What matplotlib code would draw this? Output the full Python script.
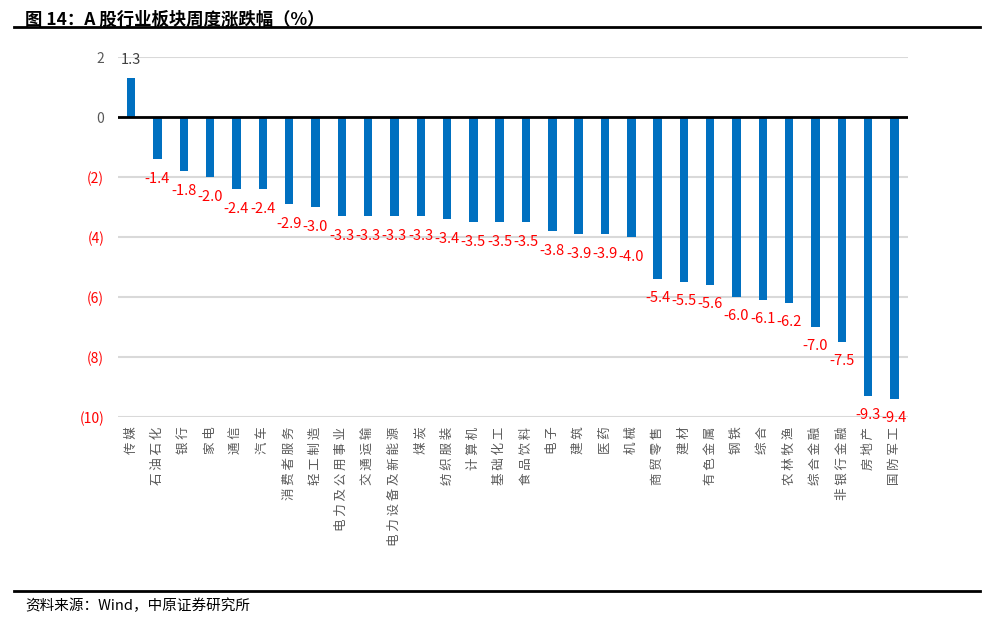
import matplotlib.pyplot as plt
import matplotlib.ticker as mticker

plt.rcParams['font.family'] = ['Noto Sans CJK SC', 'DejaVu Sans']

sectors = ["传媒", "石油石化", "银行", "家电", "通信", "汽车", "消费者服务", "轻工制造",
           "电力及公用事业", "交通运输", "电力设备及新能源", "煤炭", "纺织服装", "计算机",
           "基础化工", "食品饮料", "电子", "建筑", "医药", "机械", "商贸零售", "建材",
           "有色金属", "钢铁", "综合", "农林牧渔", "综合金融", "非银行金融", "房地产", "国防军工"]
changes = [1.3, -1.4, -1.8, -2.0, -2.4, -2.4, -2.9, -3.0, -3.3, -3.3, -3.3, -3.3, -3.4, -3.5,
           -3.5, -3.5, -3.8, -3.9, -3.9, -4.0, -5.4, -5.5, -5.6, -6.0, -6.1, -6.2, -7.0, -7.5,
           -9.3, -9.4]
yticks = [2, 0, -2, -4, -6, -8, -10]

fig = plt.figure(figsize=(9.92, 6.21), dpi=100)
ax = fig.add_axes([0.119, 0.3285, 0.796, 0.5795])

x = list(range(len(sectors)))
ax.bar(x, changes, width=0.32, color="#0070c0", zorder=3)

ax.set_xlim(-0.5, len(sectors) - 0.5)
ax.set_ylim(-10, 2)
ax.set_yticks(yticks)
ax.yaxis.set_major_formatter(mticker.FuncFormatter(
    lambda v, p: f"({abs(int(v))})" if v < 0 else f"{int(v)}"))
ax.grid(axis="y", color="#d9d9d9", linewidth=1.5, zorder=0)
ax.axhline(0, color="black", linewidth=2, zorder=4)
for s in ax.spines.values():
    s.set_visible(False)
ax.tick_params(axis="y", length=0, pad=10, labelsize=10)
for lab, v in zip(ax.get_yticklabels(), yticks):
    lab.set_color("red" if v < 0 else "#595959")

# spaced-out characters like the original
spaced = [" ".join(s) for s in sectors]
ax.set_xticks(x)
ax.set_xticklabels(spaced, rotation=90, fontsize=9, color="#595959", va="top", ha="center")
ax.tick_params(axis="x", length=0, pad=7)

for xi, v in zip(x, changes):
    if v >= 0:
        ax.annotate(f"{v:.1f}", (xi, v), xytext=(0, 13), textcoords="offset points",
                    ha="center", va="center", fontsize=10.5, color="#404040")
    else:
        ax.annotate(f"{v:.1f}", (xi, v), xytext=(0, -14), textcoords="offset points",
                    ha="center", va="center", fontsize=10.5, color="red")

fig.text(0.025, 0.982, "图 14：A 股行业板块周度涨跌幅（%）", fontsize=12.5, fontweight="bold",
         ha="left", va="top")
fig.add_artist(plt.Line2D([0.014, 0.988], [0.956, 0.956], color="black", linewidth=2))
fig.add_artist(plt.Line2D([0.014, 0.988], [0.048, 0.048], color="black", linewidth=2))
fig.text(0.025, 0.025, "资料来源：Wind，中原证券研究所", fontsize=10.5, ha="left", va="center")

fig.savefig("out.png", dpi=100)
